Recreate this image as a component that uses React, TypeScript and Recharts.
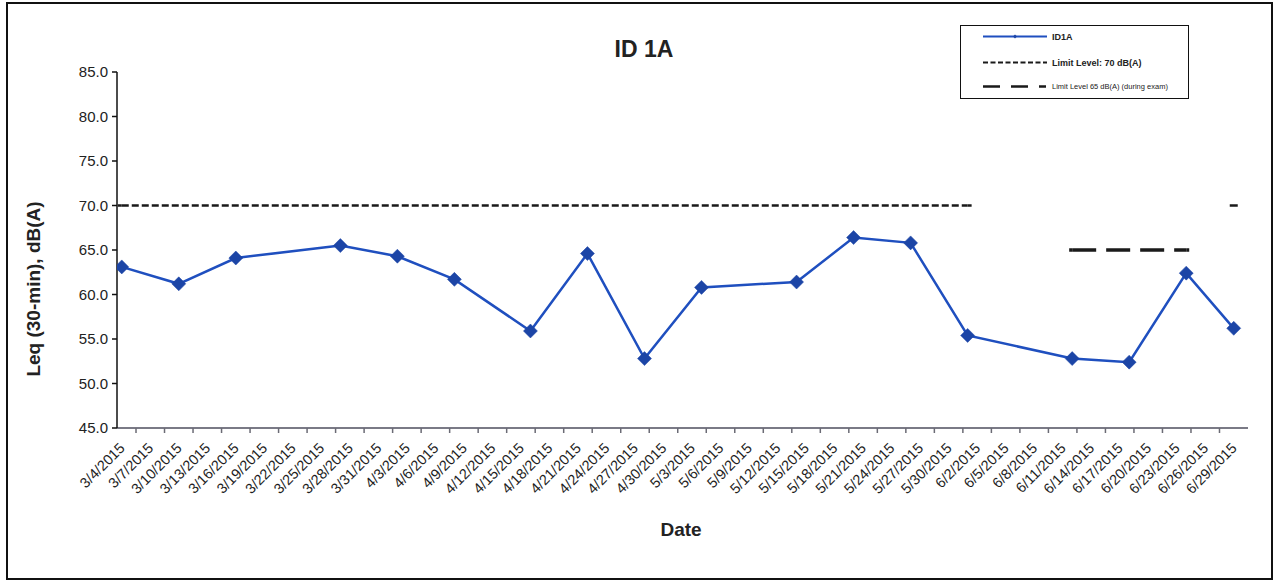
import React from 'react';
import { LineChart, Line, XAxis, YAxis, Legend, Label } from 'recharts';

const FONT = '"Liberation Sans", Arial, Helvetica, sans-serif';

// ---- data ----
const tickDates = [
  '3/4/2015', '3/7/2015', '3/10/2015', '3/13/2015', '3/16/2015', '3/19/2015', '3/22/2015', '3/25/2015',
  '3/28/2015', '3/31/2015', '4/3/2015', '4/6/2015', '4/9/2015', '4/12/2015', '4/15/2015', '4/18/2015',
  '4/21/2015', '4/24/2015', '4/27/2015', '4/30/2015', '5/3/2015', '5/6/2015', '5/9/2015', '5/12/2015',
  '5/15/2015', '5/18/2015', '5/21/2015', '5/24/2015', '5/27/2015', '5/30/2015', '6/2/2015', '6/5/2015',
  '6/8/2015', '6/11/2015', '6/14/2015', '6/17/2015', '6/20/2015', '6/23/2015', '6/26/2015', '6/29/2015',
];
const axisStartDate = '3/4/2015';
const axisEndDate = '6/30/2015';

const measurementDates = [
  '3/4/2015', '3/10/2015', '3/16/2015', '3/27/2015', '4/2/2015', '4/8/2015', '4/16/2015', '4/22/2015',
  '4/28/2015', '5/4/2015', '5/14/2015', '5/20/2015', '5/26/2015', '6/1/2015', '6/12/2015', '6/18/2015',
  '6/24/2015', '6/29/2015',
];
const id1aValues = [63.1, 61.2, 64.1, 65.5, 64.3, 61.7, 55.9, 64.6, 52.8, 60.8, 61.4, 66.4, 65.8, 55.4, 52.8, 52.4, 62.4, 56.2];
const limit70Values = [70, 70, 70, 70, 70, 70, 70, 70, 70, 70, 70, 70, 70, 70, null, null, null, 70];
const limit65Values = [null, null, null, null, null, null, null, null, null, null, null, null, null, null, 65, 65, 65, null];

const yTicks = [45, 50, 55, 60, 65, 70, 75, 80, 85];

// ---- helpers ----
const dayOf = (s: string) => {
  const [m, d, y] = s.split('/').map(Number);
  const [m0, d0, y0] = axisStartDate.split('/').map(Number);
  return Math.round((Date.UTC(y, m - 1, d) - Date.UTC(y0, m0 - 1, d0)) / 86400000);
};

const rows = measurementDates.map((date, i) => ({
  day: dayOf(date),
  date,
  id1a: id1aValues[i],
  limit70: limit70Values[i],
  limit65: limit65Values[i],
}));

const xTicks = tickDates.map(dayOf);
const labelByDay: Record<number, string> = {};
tickDates.forEach((t) => { labelByDay[dayOf(t)] = t; });
const X_MIN = dayOf(axisStartDate) - 0.5;
const X_MAX = dayOf(axisEndDate) + 0.5;

// ---- layout ----
const W = 1279;
const H = 585;
const PLOT_L = 117;
const PLOT_R = 1248;
const PLOT_T = 72;
const PLOT_B = 428;
const Y_AXIS_W = 60;
const X_AXIS_H = 60;
const PX_PER_DAY = (PLOT_R - PLOT_L) / (X_MAX - X_MIN);

const BLUE = '#1f4fbf';
const MARK = '#1c45a6';

const XTick = (props: any) => {
  const { x, payload, index } = props;
  const ax = x + 4;
  const ay = PLOT_B + 21;
  const tx = x - 1.5 * PX_PER_DAY;
  return (
    <g>
      {index > 0 && <line x1={tx} x2={tx} y1={PLOT_B} y2={PLOT_B + 5} stroke="#6b6b75" strokeWidth={1.5} />}
      <text x={ax} y={ay} transform={`rotate(-45 ${ax} ${ay})`} textAnchor="end" fontSize={14.5} fill="#1e1e1e" fontFamily={FONT}>
        {labelByDay[payload.value]}
      </text>
    </g>
  );
};

const DiamondDot = (props: any) => {
  const { cx, cy, index } = props;
  if (cx == null || cy == null) return <g key={`d${index}`} />;
  const r = 7;
  return <polygon key={`d${index}`} points={`${cx},${cy - r} ${cx + r},${cy} ${cx},${cy + r} ${cx - r},${cy}`} fill={MARK} stroke={MARK} strokeWidth={0.5} />;
};

// dash markers shown at the ends of each limit segment (and on isolated points)
const makeDashDot = (key: 'limit70' | 'limit65', w: number, sw: number) => (props: any) => {
  const { cx, cy, index, value } = props;
  if (cx == null || cy == null || value == null) return <g key={`s${index}`} />;
  const prev = index > 0 ? rows[index - 1][key] : null;
  const next = index < rows.length - 1 ? rows[index + 1][key] : null;
  const left = prev == null ? w : 0;
  const right = next == null ? w : 0;
  if (!left && !right) return <g key={`s${index}`} />;
  return <line key={`s${index}`} x1={cx - left} x2={cx + right} y1={cy} y2={cy} stroke="#1a1a1a" strokeWidth={sw} />;
};
const Dash70 = makeDashDot('limit70', 4, 2.5);
const Dash65 = makeDashDot('limit65', 3, 3.5);

const LegendBox = () => (
  <div style={{ width: 229, height: 74, boxSizing: 'border-box', border: '1.5px solid #111', background: '#fff' }}>
    <svg width={226} height={71} style={{ display: 'block' }}>
      <line x1={22} x2={86} y1={10.5} y2={10.5} stroke={BLUE} strokeWidth={2} />
      <polygon points="54,8.5 56,10.5 54,12.5 52,10.5" fill={MARK} />
      <text x={91} y={13.5} fontSize={9} fontWeight="bold" fill="#222" fontFamily={FONT}>ID1A</text>
      <line x1={22} x2={86} y1={36.5} y2={36.5} stroke="#1a1a1a" strokeWidth={2.2} strokeDasharray="5 2.5" />
      <text x={91} y={39.5} fontSize={9} fontWeight="bold" fill="#222" fontFamily={FONT}>Limit Level: 70 dB(A)</text>
      <line x1={22} x2={85} y1={60.5} y2={60.5} stroke="#1a1a1a" strokeWidth={2.4} strokeDasharray="17 11" />
      <text x={91} y={63} fontSize={7.5} fill="#222" fontFamily={FONT}>Limit Level 65 dB(A) (during exam)</text>
    </svg>
  </div>
);

export default function App() {
  return (
    <div style={{ position: 'absolute', left: 0, top: 0, width: W, height: H, background: '#fff' }}>
      <LineChart
        width={W}
        height={H}
        data={rows}
        margin={{ top: PLOT_T, right: W - PLOT_R, bottom: H - PLOT_B - X_AXIS_H, left: PLOT_L - Y_AXIS_W }}
      >
        <XAxis
          dataKey="day"
          type="number"
          domain={[X_MIN, X_MAX]}
          ticks={xTicks}
          interval={0}
          height={X_AXIS_H}
          tick={<XTick />}
          tickLine={false}
          axisLine={{ stroke: '#7a7a86', strokeWidth: 2 }}
          allowDataOverflow
        >
          <Label
            content={() => (
              <text x={681} y={536} textAnchor="middle" fontSize={19} fontWeight="bold" fill="#222" fontFamily={FONT}>
                Date
              </text>
            )}
          />
        </XAxis>
        <YAxis
          type="number"
          domain={[45, 85]}
          ticks={yTicks}
          interval={0}
          width={Y_AXIS_W}
          tickFormatter={(v: number) => v.toFixed(1)}
          tick={{ fontSize: 15, fill: '#222', fontFamily: FONT }}
          tickSize={5}
          tickMargin={4}
          tickLine={{ stroke: '#111', strokeWidth: 1.5 }}
          axisLine={{ stroke: '#111', strokeWidth: 1.5 }}
          allowDataOverflow
        >
          <Label
            content={() => (
              <text
                x={39.5}
                y={289}
                transform="rotate(-90 39.5 289)"
                textAnchor="middle"
                fontSize={19}
                fontWeight="bold"
                fill="#222"
                fontFamily={FONT}
              >
                Leq (30-min), dB(A)
              </text>
            )}
          />
        </YAxis>
        <Legend
          layout="vertical"
          align="center"
          verticalAlign="middle"
          content={() => <LegendBox />}
          wrapperStyle={{ position: 'absolute', left: 960, top: 25, width: 229, height: 74 }}
        />
        <Line
          dataKey="limit70"
          name="Limit Level: 70 dB(A)"
          stroke="#1a1a1a"
          strokeWidth={2.5}
          strokeDasharray="7 3"
          dot={Dash70}
          activeDot={false}
          connectNulls={false}
          isAnimationActive={false}
        />
        <Line
          dataKey="limit65"
          name="Limit Level 65 dB(A) (during exam)"
          stroke="#1a1a1a"
          strokeWidth={3.5}
          strokeDasharray="24 10"
          dot={Dash65}
          activeDot={false}
          connectNulls={false}
          isAnimationActive={false}
        />
        <Line
          dataKey="id1a"
          name="ID1A"
          stroke={BLUE}
          strokeWidth={2.5}
          dot={DiamondDot}
          activeDot={false}
          isAnimationActive={false}
        />
      </LineChart>
      <svg width={W} height={H} style={{ position: 'absolute', left: 0, top: 0, pointerEvents: 'none' }}>
        <rect x={7} y={3} width={1265} height={576} fill="none" stroke="#111" strokeWidth={2} />
        <text x={644} y={56.5} textAnchor="middle" fontSize={23} fontWeight="bold" fill="#222" fontFamily={FONT}>
          ID 1A
        </text>
      </svg>
    </div>
  );
}
